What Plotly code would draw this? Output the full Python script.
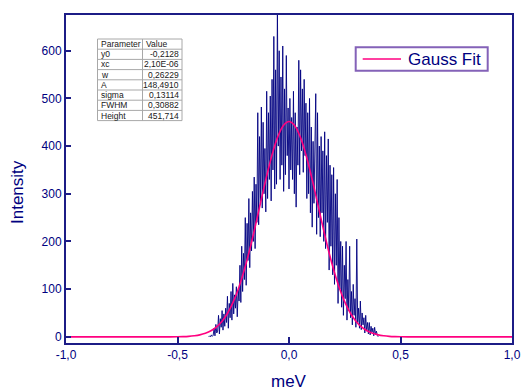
import plotly.graph_objects as go

# ---------------- data ----------------
x_start = -0.36
x_step = 0.004
intensity = [
    0, 2, 0, 4, 1,
    3, 18, 2, 26, 8,
    12, 45, 6, 38, 20,
    55, 14, 48, 22, 60,
    30, 85, 18, 70, 40,
    95, 35, 112, 48, 88,
    60, 105, 42, 98, 75,
    150, 72, 190, 95, 175,
    120, 250, 108, 238, 160,
    290, 145, 260, 180, 305,
    200, 335, 185, 320, 240,
    470, 235, 420, 280, 482,
    270, 450, 300, 395, 262,
    515, 290, 470, 330, 505,
    285, 540, 350, 630, 310,
    560, 320, 690, 400, 600,
    330, 545, 360, 610, 305,
    520, 340, 590, 380, 480,
    310, 500, 350, 460, 330,
    515, 300, 470, 272, 440,
    360, 580, 340, 560, 390,
    520, 345, 540, 380, 490,
    290, 470, 300, 500, 260,
    440, 230, 410, 280, 450,
    510, 215, 470, 250, 400,
    210, 420, 260, 390, 200,
    430, 185, 380, 240, 415,
    140, 360, 190, 340, 130,
    355, 110, 300, 150, 330,
    70, 250, 100, 200, 62,
    190, 45, 150, 80, 200,
    35, 120, 55, 190, 40,
    95, 25, 110, 45, 80,
    20, 205, 30, 60, 18,
    75, 15, 50, 25, 40,
    8, 45, 12, 30, 6,
    30, 4, 22, 10, 18,
    2, 20, 5, 12, 3,
    0,
]
mev = [round(x_start + i * x_step, 4) for i in range(len(intensity))]

fit_x = [-1.0, -0.8, -0.6, -0.55, -0.5, -0.475, -0.45, -0.425, -0.4, -0.375,
         -0.35, -0.325, -0.3, -0.275, -0.25, -0.225, -0.2, -0.175, -0.15,
         -0.125, -0.1, -0.075, -0.05, -0.025, 0.0, 0.025, 0.05, 0.075, 0.1,
         0.125, 0.15, 0.175, 0.2, 0.225, 0.25, 0.275, 0.3, 0.325, 0.35,
         0.375, 0.4, 0.425, 0.45, 0.475, 0.5, 0.55, 0.6, 0.8, 1.0]
fit_y = [-0.2, -0.2, -0.2, -0.2, 0.1, 0.4, 1.0, 2.2, 4.1, 7.4,
         12.6, 20.8, 32.8, 49.9, 73.2, 103.5, 141.0, 185.2, 234.6,
         286.6, 337.5, 383.3, 419.8, 443.4, 451.5, 443.4, 419.8, 383.3, 337.5,
         286.6, 234.6, 185.2, 141.0, 103.5, 73.2, 49.9, 32.8, 20.8, 12.6,
         7.4, 4.1, 2.2, 1.0, 0.4, 0.1, -0.2, -0.2, -0.2, -0.2]

x_tickvals = [-1.0, -0.5, 0.0, 0.5, 1.0]
x_ticktext = ["-1,0", "-0,5", "0,0", "0,5", "1,0"]
y_tickvals = [0, 100, 200, 300, 400, 500, 600]

param_names = ["y0", "xc", "w", "A", "sigma", "FWHM", "Height"]
param_values = ["-0,2128", "2,10E-06", "0,26229", "148,4910", "0,13114", "0,30882", "451,714"]

# ---------------- style ----------------
W, H = 521, 390
ML, MR, MT, MB = 66, 9, 15, 47
PW, PH = W - ML - MR, H - MT - MB
NAVY = "#000080"
AXIS = "#1c1c86"
FIT = "#ff0080"
FONT = "Liberation Sans, Arial, sans-serif"


def px(xp):
    return (xp - ML) / PW


def py(yp):
    return (H - MB - yp) / PH


fig = go.Figure()
fig.add_trace(go.Scatter(x=mev, y=intensity, mode="lines", name="Data",
                         line=dict(color=NAVY, width=0.9), showlegend=False))
fig.add_trace(go.Scatter(x=fit_x, y=fit_y, mode="lines", name="Gauss Fit",
                         line=dict(color=FIT, width=1.6, shape="spline"), showlegend=False))

shapes = []
annotations = []

# parameter table
t_left, t_mid, t_right = 97.5, 142.5, 182
t_top, row_h = 39, 10.2
n_rows = len(param_names) + 1
grey = "#a8a8a8"
for i in range(n_rows + 1):
    yy = py(t_top + i * row_h)
    shapes.append(dict(type="line", xref="paper", yref="paper", x0=px(t_left), x1=px(t_right),
                       y0=yy, y1=yy, line=dict(color=grey, width=1)))
for xx in (t_left, t_mid, t_right):
    shapes.append(dict(type="line", xref="paper", yref="paper", x0=px(xx), x1=px(xx),
                       y0=py(t_top), y1=py(t_top + n_rows * row_h), line=dict(color=grey, width=1)))

names = ["Parameter"] + param_names
vals = ["Value"] + param_values
tfont = dict(family=FONT, size=8.5, color="#202020")
for i in range(n_rows):
    yc = py(t_top + (i + 0.5) * row_h)
    annotations.append(dict(xref="paper", yref="paper", x=px(t_left + 1), y=yc, text=names[i],
                            showarrow=False, xanchor="left", yanchor="middle", font=tfont))
    if i == 0:
        annotations.append(dict(xref="paper", yref="paper", x=px(t_mid + 1), y=yc, text=vals[i],
                                showarrow=False, xanchor="left", yanchor="middle", font=tfont))
    else:
        annotations.append(dict(xref="paper", yref="paper", x=px(t_right - 1), y=yc, text=vals[i],
                                showarrow=False, xanchor="right", yanchor="middle", font=tfont))

# legend box (drawn by hand to match the reference's geometry)
shapes.append(dict(type="rect", xref="paper", yref="paper",
                   x0=px(355.7), x1=px(487.7), y0=py(70.7), y1=py(47.3),
                   line=dict(color="#8462b8", width=2), fillcolor="white"))
shapes.append(dict(type="line", xref="paper", yref="paper",
                   x0=px(362.7), x1=px(401), y0=py(59), y1=py(59),
                   line=dict(color=FIT, width=1.6)))
annotations.append(dict(xref="paper", yref="paper", x=px(405.5), y=py(59.5), text="Gauss Fit",
                        showarrow=False, xanchor="left", yanchor="middle",
                        font=dict(family=FONT, size=17, color=NAVY)))

# axis titles
annotations.append(dict(xref="paper", yref="paper", x=px(18), y=py(192), text="Intensity",
                        textangle=-90, showarrow=False, xanchor="center", yanchor="middle",
                        font=dict(family=FONT, size=17, color=NAVY)))
annotations.append(dict(xref="paper", yref="paper", x=px(289), y=py(381), text="meV",
                        showarrow=False, xanchor="center", yanchor="middle",
                        font=dict(family=FONT, size=17, color=NAVY)))

fig.update_layout(
    width=W, height=H, autosize=False,
    margin=dict(l=ML, r=MR, t=MT, b=MB, autoexpand=False),
    paper_bgcolor="white", plot_bgcolor="white",
    font=dict(family=FONT, size=12, color=NAVY),
    shapes=shapes, annotations=annotations,
    showlegend=False,
    xaxis=dict(range=[-1.0, 1.0], tickvals=x_tickvals, ticktext=x_ticktext,
               ticks="inside", ticklen=6, tickwidth=1.5, tickcolor=AXIS,
               showline=True, linecolor=AXIS, linewidth=2, mirror=True,
               showgrid=False, zeroline=False, automargin=False,
               tickfont=dict(family=FONT, size=12, color=NAVY)),
    yaxis=dict(range=[-13, 675], tickvals=y_tickvals,
               ticks="inside", ticklen=5, tickwidth=1.5, tickcolor=AXIS,
               showline=True, linecolor=AXIS, linewidth=2, mirror=True,
               showgrid=False, zeroline=False, automargin=False,
               tickfont=dict(family=FONT, size=12, color=NAVY)),
)

fig.write_html("out.html", config={"displayModeBar": False},
               post_script="document.body.style.margin='0';document.body.style.overflow='hidden';")
